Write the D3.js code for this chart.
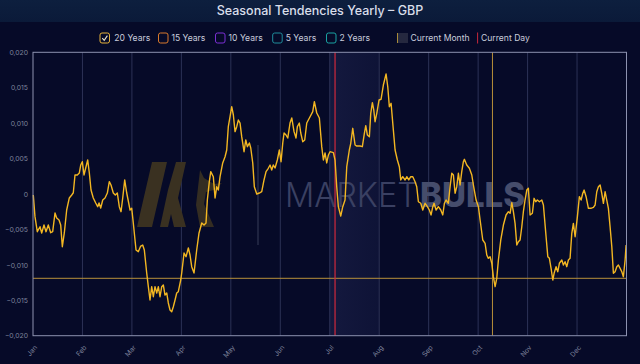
<!DOCTYPE html>
<html><head><meta charset="utf-8">
<script src="https://cdn.jsdelivr.net/npm/d3@7"></script>
<style>html,body{margin:0;padding:0;background:#060a28;overflow:hidden}svg{display:block;font-family:Inter,"Noto Sans",sans-serif}</style>
</head><body>
<script>
// ---------- DATA ----------
const title = "Seasonal Tendencies Yearly – GBP";
const monthLabels = ["Jan","Feb","Mar","Apr","May","Jun","Jul","Aug","Sep","Oct","Nov","Dec"];
const yTicks = [0.02,0.015,0.01,0.005,0,-0.005,-0.01,-0.015,-0.02];
const legendLabels = ["20 Years","15 Years","10 Years","5 Years","2 Years"];
const legendColors = ["#e6b13a","#d9792c","#7b2fd4","#1f8d9c","#19a2a2"];
// time position in months since Jan 1 (0..12)
const timeInMonths = [0.006,0.040,0.087,0.142,0.176,0.222,0.263,0.309,0.358,0.398,0.445,0.479,0.526,0.560,0.593,0.633,0.681,0.734,0.783,0.815,0.849,0.896,0.936,0.965,0.997,1.031,1.072,1.106,1.139,1.173,1.219,1.268,1.308,1.335,1.369,1.410,1.456,1.503,1.543,1.577,1.624,1.664,1.705,1.745,1.780,1.814,1.854,1.895,1.935,1.962,1.996,2.028,2.083,2.129,2.178,2.218,2.251,2.299,2.332,2.366,2.400,2.433,2.467,2.502,2.534,2.568,2.603,2.635,2.669,2.704,2.736,2.770,2.805,2.837,2.872,2.906,2.938,2.987,3.007,3.054,3.094,3.141,3.175,3.209,3.256,3.310,3.357,3.412,3.458,3.498,3.525,3.565,3.594,3.646,3.681,3.715,3.747,3.782,3.836,3.883,3.917,3.949,3.984,4.018,4.051,4.085,4.119,4.152,4.186,4.220,4.267,4.302,4.334,4.375,4.403,4.443,4.475,4.524,4.576,4.625,4.671,4.712,4.758,4.793,4.827,4.859,4.894,4.940,4.981,5.015,5.050,5.076,5.116,5.151,5.197,5.232,5.278,5.318,5.345,5.385,5.414,5.454,5.494,5.535,5.567,5.602,5.656,5.689,5.737,5.790,5.838,5.871,5.905,5.939,5.972,6.006,6.073,6.107,6.141,6.174,6.222,6.263,6.309,6.344,6.396,6.425,6.465,6.512,6.546,6.613,6.659,6.700,6.728,6.760,6.801,6.829,6.862,6.890,6.916,6.951,6.997,7.037,7.084,7.139,7.173,7.205,7.240,7.286,7.321,7.367,7.407,7.436,7.476,7.523,7.557,7.598,7.638,7.679,7.725,7.759,7.792,7.840,7.881,7.927,7.974,8.014,8.049,8.083,8.109,8.150,8.196,8.245,8.285,8.318,8.352,8.398,8.433,8.467,8.500,8.534,8.568,8.601,8.635,8.669,8.702,8.722,8.770,8.823,8.872,8.904,8.959,9.006,9.040,9.094,9.141,9.175,9.207,9.242,9.276,9.308,9.343,9.377,9.410,9.458,9.511,9.565,9.612,9.646,9.681,9.713,9.747,9.782,9.814,9.848,9.883,9.915,9.949,9.984,10.016,10.051,10.097,10.131,10.166,10.198,10.239,10.287,10.320,10.374,10.409,10.441,10.475,10.510,10.536,10.576,10.611,10.643,10.692,10.724,10.758,10.793,10.825,10.859,10.894,10.926,10.961,11.007,11.047,11.082,11.116,11.143,11.183,11.230,11.278,11.331,11.365,11.399,11.432,11.466,11.500,11.533,11.567,11.601,11.634,11.668,11.703,11.735,11.769,11.804,11.836,11.871,11.905,11.937,11.972,11.992];
const values20Y = [-0.00014,-0.00320,-0.00532,-0.00462,-0.00550,-0.00438,-0.00532,-0.00438,-0.00546,-0.00532,-0.00268,-0.00339,-0.00367,-0.00438,-0.00744,-0.00550,-0.00226,-0.00056,-0.00014,0.00018,0.00268,0.00268,0.00296,0.00409,0.00456,0.00268,0.00385,0.00480,0.00296,0.00056,-0.00056,-0.00127,-0.00179,-0.00127,-0.00198,-0.00085,-0.00056,0.00014,0.00174,0.00127,0.00014,-0.00014,0.00014,-0.00179,-0.00250,-0.00056,0.00198,0.00014,-0.00127,-0.00226,-0.00202,-0.00409,-0.00790,-0.00814,-0.00734,-0.00720,-0.00790,-0.01115,-0.01308,-0.01496,-0.01308,-0.01450,-0.01308,-0.01397,-0.01308,-0.01450,-0.01308,-0.01284,-0.01426,-0.01397,-0.01538,-0.01637,-0.01661,-0.01591,-0.01496,-0.01397,-0.01379,-0.01214,-0.01115,-0.00833,-0.00885,-0.00762,-0.00861,-0.01026,-0.01115,-0.00790,-0.00550,-0.00409,-0.00438,-0.00409,-0.00085,0.00174,0.00315,0.00244,-0.00056,0.00103,0.00056,0.00244,0.00438,0.00526,0.00621,0.00950,0.01091,0.01232,0.01115,0.00880,0.00950,0.01044,0.01002,0.00809,0.00597,0.00762,0.00668,0.00720,0.00649,0.00438,0.00103,0.00000,0.00014,0.00032,0.00198,0.00315,0.00363,0.00409,0.00339,0.00409,0.00367,0.00480,0.00621,0.00456,0.00720,0.00861,0.00833,0.00790,0.01002,0.01073,0.00880,0.00790,0.00950,0.01002,0.00861,0.00738,0.00762,0.01002,0.01044,0.01091,0.01162,0.01303,0.01143,0.01073,0.00668,0.00480,0.00579,0.00438,0.00550,0.00597,0.00583,0.00480,0.00103,-0.00179,-0.00311,-0.00179,-0.00085,0.00385,0.00621,0.00716,0.00927,0.00692,0.00677,0.00677,0.00668,0.00857,0.00964,0.00833,0.00809,0.01139,0.01289,0.01186,0.01020,0.01139,0.01327,0.01337,0.01538,0.01694,0.01514,0.01232,0.01280,0.00903,0.00621,0.00480,0.00385,0.00198,0.00244,0.00198,0.00244,0.00198,0.00244,0.00244,0.00174,0.00103,-0.00109,-0.00131,-0.00226,-0.00131,-0.00179,-0.00226,-0.00296,-0.00179,-0.00131,-0.00226,-0.00179,-0.00226,-0.00296,-0.00131,-0.00085,-0.00131,0.00103,0.00292,0.00268,0.00010,0.00103,0.00292,0.00127,0.00315,0.00456,0.00490,0.00409,0.00363,0.00268,0.00127,-0.00085,-0.00179,-0.00367,-0.00649,-0.00696,-0.00861,-0.00908,-0.00885,-0.00978,-0.01167,-0.01308,-0.01190,-0.00932,-0.00649,-0.00438,-0.00296,-0.00250,-0.00272,-0.00123,-0.00250,-0.00414,-0.00720,-0.00673,-0.00649,-0.00462,-0.00250,-0.00085,0.00056,0.00080,-0.00296,-0.00272,-0.00061,-0.00109,-0.00085,-0.00109,-0.00085,-0.00155,-0.00603,-0.00885,-0.00908,-0.01049,-0.01214,-0.01119,-0.01026,-0.01097,-0.00978,-0.00932,-0.01002,-0.00956,-0.01026,-0.00932,-0.00908,-0.00555,-0.00414,-0.00603,-0.00320,-0.00038,-0.00085,0.00010,0.00056,-0.00038,-0.00202,-0.00202,-0.00188,-0.00155,0.00032,0.00103,0.00127,0.00010,-0.00131,0.00032,-0.00085,-0.00202,-0.00462,-0.00744,-0.01119,-0.01097,-0.01026,-0.01002,-0.01049,-0.01097,-0.01167,-0.00932,-0.00720];
const currentMonth = 6;          // July (0-based)
const currentDayPos = 6.107;     // months since Jan 1
const crosshairTime = 9.29;
const crosshairValue = -0.0119;

// ---------- CHART ----------
const W = 640, H = 364;
const M = {left:33, right:626.5, top:52.3, bottom:335.7};
const svg = d3.select("body").append("svg").attr("width",W).attr("height",H);
const defs = svg.append("defs");
const tg = defs.append("linearGradient").attr("id","tbar").attr("x1",0).attr("x2",0).attr("y1",0).attr("y2",1);
tg.append("stop").attr("offset","0%").attr("stop-color","#0d1f3e");
tg.append("stop").attr("offset","100%").attr("stop-color","#0b1a39");
const mg = defs.append("linearGradient").attr("id","mband").attr("x1",0).attr("x2",1).attr("y1",0).attr("y2",0);
mg.append("stop").attr("offset","0%").attr("stop-color","#1a1f48").attr("stop-opacity",0.7);
mg.append("stop").attr("offset","100%").attr("stop-color","#141940").attr("stop-opacity",0.6);

svg.append("rect").attr("width",W).attr("height",H).attr("fill","#060a28");
svg.append("rect").attr("width",W).attr("height",22).attr("fill","url(#tbar)");
svg.append("text").attr("x",W/2).attr("y",15).attr("text-anchor","middle")
  .attr("font-size",12.5).attr("font-weight",500).attr("fill","#d9deea").text(title);

const x = d3.scaleLinear().domain([0,12]).range([M.left,M.right]);
const y = d3.scaleLinear().domain([-0.02,0.02]).range([M.bottom,M.top]);

// legend
const leg = svg.append("g").attr("font-size",8.6).attr("fill","#c9cddc");
const boxX = [100,158.5,215.5,272.7,326.5];
const txtX = [114.3,171.4,228.6,285.7,339.6];
legendLabels.forEach((lab,i)=>{
  leg.append("rect").attr("x",boxX[i]).attr("y",33).attr("width",9.5).attr("height",10).attr("rx",2)
    .attr("fill","none").attr("stroke",legendColors[i]).attr("stroke-width",1);
  if(i===0){
    leg.append("path").attr("d",`M${boxX[i]+2.3},38.2 L${boxX[i]+4.2},40.3 L${boxX[i]+7.4},35.6`)
      .attr("fill","none").attr("stroke","#f0e6c8").attr("stroke-width",1.1);
  }
  leg.append("text").attr("x",txtX[i]).attr("y",41).text(lab);
});
leg.append("rect").attr("x",397).attr("y",33).attr("width",11).attr("height",10).attr("fill","#25283f");
leg.append("line").attr("x1",397.5).attr("x2",397.5).attr("y1",33).attr("y2",43).attr("stroke","#a88b3a");
leg.append("text").attr("x",410.5).attr("y",41).text("Current Month");
leg.append("line").attr("x1",477.6).attr("x2",477.6).attr("y1",32.5).attr("y2",43.5).attr("stroke","#c8283c").attr("stroke-width",1);
leg.append("text").attr("x",481).attr("y",41).text("Current Day");

// current month band
svg.append("rect").attr("x",x(currentMonth)).attr("y",M.top).attr("width",x(currentMonth+1)-x(currentMonth))
  .attr("height",M.bottom-M.top).attr("fill","url(#mband)");

// month gridlines
svg.append("g").selectAll("line").data(d3.range(1,12)).join("line")
  .attr("x1",d=>x(d)).attr("x2",d=>x(d)).attr("y1",M.top).attr("y2",M.bottom)
  .attr("stroke","#2c3256").attr("stroke-width",1);

// watermark
const wm = svg.append("g");
wm.append("path").attr("d","M137,227 L152,162 L167,162 L152,227 Z").attr("fill","#3a3121");
wm.append("path").attr("d","M160,227 L168,190 L176,162 L186,162 L178,198 L186,227 L174,227 L171,214 L168,227 Z").attr("fill","#3a3121");
wm.append("path").attr("d","M200,170 L204,178 L214,184 L222,183 L214,190 L206,192 L204,204 L214,227 L200,227 L196,205 Z").attr("fill","#3a3121").attr("opacity",0.9);
wm.append("line").attr("x1",258).attr("x2",258).attr("y1",145).attr("y2",245).attr("stroke","#2f3450").attr("stroke-width",1.2);
wm.append("text").attr("x",285).attr("y",207).attr("font-size",34).attr("font-weight",300)
  .attr("textLength",133).attr("lengthAdjust","spacingAndGlyphs").attr("fill","#3a4062").text("MARKET");
wm.append("text").attr("x",420).attr("y",207).attr("font-size",34).attr("font-weight",800)
  .attr("textLength",105).attr("lengthAdjust","spacingAndGlyphs").attr("fill","#464d6c").text("BULLS");

// crosshair
svg.append("line").attr("x1",M.left).attr("x2",M.right).attr("y1",y(crosshairValue)).attr("y2",y(crosshairValue))
  .attr("stroke","#b8903a").attr("stroke-width",1);
svg.append("line").attr("x1",x(crosshairTime)).attr("x2",x(crosshairTime)).attr("y1",M.top).attr("y2",M.bottom)
  .attr("stroke","#b8903a").attr("stroke-width",1);

// current day
svg.append("line").attr("x1",x(currentDayPos)).attr("x2",x(currentDayPos)).attr("y1",M.top).attr("y2",M.bottom)
  .attr("stroke","#d12a3c").attr("stroke-width",1.2);

// series line
const pts = timeInMonths.map((t,i)=>[t,values20Y[i]]);
svg.append("path").datum(pts)
  .attr("d",d3.line().x(d=>x(d[0])).y(d=>y(d[1])))
  .attr("fill","none").attr("stroke","#f3b722").attr("stroke-width",1.4).attr("stroke-linejoin","round");

// plot border
svg.append("rect").attr("x",M.left).attr("y",M.top).attr("width",M.right-M.left).attr("height",M.bottom-M.top)
  .attr("fill","none").attr("stroke","#8d92b0").attr("stroke-width",1);

// axes
const loc = d3.formatLocale({decimal:",",thousands:".",grouping:[3],currency:["",""]});
const f3 = loc.format(".3f");
const yAxis = svg.append("g").attr("transform",`translate(${M.left},0)`)
  .call(d3.axisLeft(y).tickValues(yTicks).tickSize(0).tickPadding(5).tickFormat(d=>d===0?"0":f3(d)));
yAxis.select(".domain").remove();
yAxis.selectAll("text").attr("fill","#7e839c").attr("font-size",6.8).attr("font-family","Inter, sans-serif");

const xAxis = svg.append("g").attr("transform",`translate(0,${M.bottom})`)
  .call(d3.axisBottom(x).tickValues(d3.range(12)).tickSize(0).tickFormat(i=>monthLabels[i]));
xAxis.select(".domain").remove();
xAxis.selectAll("text").attr("fill","#7e839c").attr("font-size",6.8).attr("font-family","Inter, sans-serif")
  .attr("text-anchor","end").attr("y",0).attr("dy",0).attr("transform","translate(4,12) rotate(-50)");
</script>
</body></html>
